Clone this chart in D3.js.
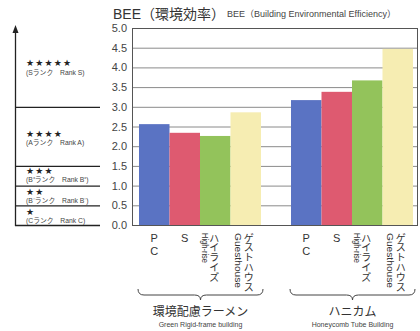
<!DOCTYPE html>
<html><head><meta charset="utf-8">
<script src="https://cdn.jsdelivr.net/npm/d3@7"></script>
<style>
html,body{margin:0;padding:0;background:#fff;}
svg{display:block;}
text{font-family:"Liberation Sans","Noto Sans CJK JP",Arial,sans-serif;}
</style></head>
<body><svg id="c" width="420" height="331"></svg>
<script>
const groups = ["環境配慮ラーメン", "ハニカム"];
const groupsEn = ["Green Rigid-frame building", "Honeycomb Tube Building"];
const series = ["PC", "S", "ハイライズ", "ゲストハウス"];
const seriesJa = [["P","C"], ["S"], ["ハ","イ","ラ","イ","ズ"], ["ゲ","ス","ト","ハ","ウ","ス"]];
const seriesEn = ["", "", "High-rise", "Guesthouse"];
const valuesGreen = [2.56, 2.34, 2.26, 2.86];
const valuesHoney = [3.17, 3.38, 3.67, 4.47];
const yTicks = [0, 0.5, 1.0, 1.5, 2.0, 2.5, 3.0, 3.5, 4.0, 4.5, 5.0];
const rankBounds = [3.0, 1.5, 1.0, 0.5, 0.0];
const rankStars = ["★★★★★", "★★★★", "★★★", "★★", "★"];
const rankLabels = ["(Sランク　Rank S)", "(Aランク　Rank A)", "(B⁺ランク　Rank B⁺)", "(B⁻ランク　Rank B⁻)", "(Cランク　Rank C)"];
const rankStarAt = [4.03, 2.24, 1.29, 0.76, 0.25];
const colors = ["#5a73c3", "#de5a70", "#93c35b", "#f6edb2"];

const values = [valuesGreen, valuesHoney];
const svg = d3.select("#c");

const plotL = 132, plotR = 418, plotT = 28, plotB = 225;
const y = d3.scaleLinear().domain([0, 5]).range([plotB, plotT]);
const x0 = d3.scaleBand().domain(groups).range([139, 413]).paddingInner(30/152).paddingOuter(0);
const x1 = d3.scaleBand().domain(series).range([0, x0.bandwidth()]).padding(0);

// gridlines
svg.append("g").selectAll("line").data(yTicks).join("line")
  .attr("x1", plotL).attr("x2", plotR)
  .attr("y1", d => y(d) + 0.5).attr("y2", d => y(d) + 0.5)
  .attr("stroke", "#8a8a8a").attr("stroke-width", 1);

// axis labels
const yAxis = d3.axisLeft(y).tickValues(yTicks).tickFormat(d3.format(".1f")).tickSize(0).tickPadding(5);
const ag = svg.append("g").attr("transform", `translate(${plotL},0)`).call(yAxis);
ag.select(".domain").remove();
ag.selectAll("text").attr("font-size", 11).attr("fill", "#444")
  .style("font-family", "'Liberation Sans',Arial,sans-serif");

// bars
groups.forEach((g, gi) => {
  svg.append("g").selectAll("rect").data(values[gi]).join("rect")
    .attr("x", (d, i) => x0(g) + x1(series[i]))
    .attr("width", x1.bandwidth())
    .attr("y", d => y(d))
    .attr("height", d => y(0) - y(d))
    .attr("fill", (d, i) => colors[i]);
});

// frame
svg.append("rect").attr("x", plotL + 0.5).attr("y", plotT + 0.5)
  .attr("width", plotR - plotL - 1).attr("height", plotB - plotT)
  .attr("fill", "none").attr("stroke", "#555").attr("stroke-width", 1);

// title
svg.append("text").attr("x", 113).attr("y", 19).attr("font-size", 14).attr("fill", "#333")
  .text("BEE（環境効率）");
svg.append("text").attr("x", 227).attr("y", 17).attr("font-size", 9).attr("fill", "#444")
  .text("BEE（Building Environmental Efficiency）");

// left rank panel
const lp = svg.append("g");
lp.append("line").attr("x1", 15.5).attr("x2", 15.5).attr("y1", 30).attr("y2", y(0) + 1)
  .attr("stroke", "#222").attr("stroke-width", 1.3);
lp.append("path").attr("d", "M15.5,25 L12.5,33 L18.5,33 Z").attr("fill", "#222");
lp.selectAll("line.rk").data(rankBounds).join("line").attr("class", "rk")
  .attr("x1", 15).attr("x2", 100)
  .attr("y1", d => y(d) + 0.5).attr("y2", d => y(d) + 0.5)
  .attr("stroke", "#222").attr("stroke-width", 1.3);
rankStars.forEach((s, i) => {
  const by = y(rankStarAt[i]);
  lp.append("text").attr("x", 26).attr("y", by).attr("font-size", 9).attr("fill", "#222")
    .attr("letter-spacing", 1.2)
    .style("font-family", "'DejaVu Sans',sans-serif").text(s);
  lp.append("text").attr("x", 26).attr("y", by + 8.3).attr("font-size", 6.8).attr("fill", "#444").text(rankLabels[i]);
});

// category labels
const jaOff = [0, 0, -1, 3];
const enOff = [0, 0, -13.5, -10.5];
groups.forEach((g, gi) => {
  series.forEach((s, si) => {
    const cx = x0(g) + x1(s) + x1.bandwidth() / 2;
    const ja = seriesJa[si];
    const en = seriesEn[si];
    if (!en) {
      ja.forEach((ch, k) => {
        svg.append("text").attr("x", cx).attr("y", 242 + k * 12.5).attr("text-anchor", "middle")
          .attr("font-size", 11).attr("fill", "#333").text(ch);
      });
    } else {
      const jx = cx + jaOff[si];
      ja.forEach((ch, k) => {
        svg.append("text").attr("x", jx).attr("y", 241.5 + k * 9.9).attr("text-anchor", "middle")
          .attr("font-size", 10).attr("fill", "#333").text(ch);
      });
      const ex = cx + enOff[si];
      svg.append("text").attr("transform", `translate(${ex},233) rotate(90)`)
        .attr("font-size", 8.5).attr("fill", "#333")
        .attr("textLength", si === 2 ? 30 : 55).attr("lengthAdjust", "spacingAndGlyphs")
        .text(en);
    }
  });
  // brace
  const bx0 = x0(g) - 1, bx1 = x0(g) + x0.bandwidth() + 2, bm = (bx0 + bx1) / 2;
  const yt = 289, ym = 295, yb = 300;
  const p = `M${bx0},${yt} Q${bx0},${ym} ${bx0 + 6},${ym} L${bm - 6},${ym} Q${bm},${ym} ${bm},${yb} Q${bm},${ym} ${bm + 6},${ym} L${bx1 - 6},${ym} Q${bx1},${ym} ${bx1},${yt}`;
  svg.append("path").attr("d", p).attr("fill", "none").attr("stroke", "#444").attr("stroke-width", 1);
  svg.append("text").attr("x", bm).attr("y", 316).attr("text-anchor", "middle")
    .attr("font-size", 12).attr("fill", "#333").text(g);
  svg.append("text").attr("x", bm).attr("y", 327).attr("text-anchor", "middle")
    .attr("font-size", 7).attr("fill", "#444").text(groupsEn[gi]);
});
</script></body></html>
